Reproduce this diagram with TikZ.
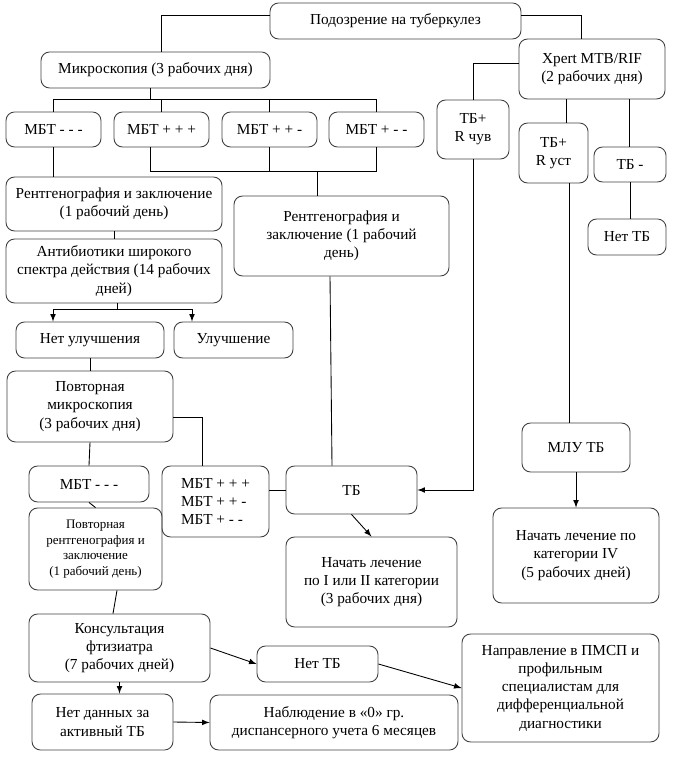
\documentclass[tikz,border=0pt]{standalone}
\usepackage{fontspec}
\setmainfont{Liberation Serif}
\usepackage{tikz}

\begin{document}
\begin{tikzpicture}[x=0.02cm, y=-0.02cm, >=latex,
  blk/.style={draw=black!75, line width=0.5pt, rounded corners=0.17cm, align=center,
    inner sep=0pt, font=\fontsize{8.7}{10.4}\selectfont},
  bx/.style 2 args={blk, minimum width=#1 cm, minimum height=#2 cm},
  every path/.style={line width=0.5pt}]

\useasboundingbox (0,0) rectangle (679,759);

% top
\node[bx={5.02}{0.72}] (susp) at (395.5,21) {Подозрение на туберкулез};
\node[bx={4.58}{0.72}] (micro) at (155.5,70) {Микроскопия (3 рабочих дня)};
\node[bx={2.92}{1.2}] (xpert) at (592,69) {Xpert MTB/RIF\\(2 рабочих дня)};

% microscopy results
\node[bx={1.9}{0.7}] (m1) at (53.5,129.5) {МБТ - - -};
\node[bx={1.9}{0.7}] (m2) at (161.5,129.5) {МБТ + + +};
\node[bx={1.9}{0.7}] (m3) at (269.5,129.5) {МБТ + + -};
\node[bx={1.9}{0.7}] (m4) at (376.5,129.5) {МБТ + - -};

% xpert results
\node[bx={1.44}{1.18}] (tbs) at (473,129.5) {ТБ+\\R чув};
\node[bx={1.38}{1.2}] (tbr) at (553.5,153) {ТБ+\\R уст};
\node[bx={1.44}{0.7}] (tbn) at (630,164.5) {ТБ -};
\node[bx={1.56}{0.72}] (notb1) at (627,237) {Нет ТБ};

% left branch
\node[bx={4.32}{1.08}] (rtg1) at (114,204) {Рентгенография и заключение\\(1 рабочий день)};
\node[bx={4.32}{1.28}] (abx) at (114,271) {Антибиотики широкого\\спектра действия (14 рабочих\\дней)};
\node[bx={4.3}{1.6}] (rtg2) at (341.5,236) {Рентгенография и\\заключение (1 рабочий\\день)};
\node[bx={2.96}{0.72}] (noimp) at (90,340) {Нет улучшения};
\node[bx={2.38}{0.72}] (imp) at (233.5,340) {Улучшение};
\node[bx={3.32}{1.42}] (rmic) at (90,406.5) {Повторная\\микроскопия\\(3 рабочих дня)};
\node[bx={2.4}{0.72}] (mneg) at (89,484) {МБТ - - -};
\node[bx={2.14}{1.42}, align=left] (mpos) at (215.5,501.5) {МБТ + + +\\МБТ + + -\\МБТ + - -};
\node[bx={2.62}{0.96}] (tb) at (351.5,490) {ТБ};
\node[bx={3.42}{1.8}] (trt12) at (371.5,582) {Начать лечение\\по I или II категории\\(3 рабочих дня)};
\node[bx={2.16}{0.98}] (mdr) at (576,447.5) {МЛУ ТБ};
\node[bx={3.32}{1.9}] (trt4) at (576,555.5) {Начать лечение по\\категории IV\\(5 рабочих дней)};
\node[bx={2.66}{1.64}, font=\fontsize{7.4}{8.8}\selectfont] (rrtg) at (95.5,549) {Повторная\\рентгенография и\\заключение\\(1 рабочий день)};

% bottom
\node[bx={3.62}{1.36}] (cons) at (119.5,648) {Консультация\\фтизиатра\\(7 рабочих дней)};
\node[bx={2.42}{0.72}] (notb2) at (317.5,664) {Нет ТБ};
\node[bx={3.94}{2.16}] (refr) at (560.5,688) {Направление в ПМСП и\\профильным\\специалистам для\\дифференциальной\\диагностики};
\node[bx={2.82}{1.12}] (nodat) at (102.5,722) {Нет данных за\\активный ТБ};
\node[bx={4.96}{1.1}] (obs) at (334,722.5) {Наблюдение в «0» гр.\\диспансерного учета 6 месяцев};

% connectors
\draw (susp.west |- 0,15) -| (micro.north -| 161,0);
\draw (susp.east |- 0,15) -| (xpert.north -| 581,0);

\draw (micro.south -| 150,0) -- (150,99);
\draw (m1.north) -- (m1.north |- 0,99) -- (m4.north |- 0,99) -- (m4.north);
\draw (m2.north) -- (m2.north |- 0,99);
\draw (m3.north) -- (m3.north |- 0,99);

\draw (m2.south -| 150,0) |- (m4.south |- 0,171) -- (m4.south);
\draw (m3.south) -- (m3.south |- 0,171);
\draw (317,171) -- (rtg2.north -| 317,0);
\draw (m1.south) -- (m1.south |- rtg1.north);
\draw (rtg1.south) -- (abx.north);

\draw (abx.south -| 117,0) -- (117,309);
\draw[->] (117,309) -| (noimp.north -| 53,0);
\draw[->] (117,309) -| (imp.north -| 192,0);

\draw (noimp.south) -- (rmic.north);
\draw (rmic.east |- 0,417) -| (mpos.north -| 202,0);
\draw (rmic.south) -- (mneg.north);
\draw (mneg.south) -- (rrtg.north);
\draw (tb.west) -- (tb.west -| mpos.east);
\draw (rtg2.south -| 330,0) -- (tb.north -| 332,0);

\draw (xpert.west |- 0,63) -| (tbs.north);
\draw[->] (tbs.south) |- (tb.east);
\draw (xpert.south -| 566,0) -- (tbr.north -| 566,0);
\draw (tbr.south -| 569,0) -- (mdr.north -| 569,0);
\draw (xpert.south -| 629,0) -- (tbn.north -| 629,0);
\draw (tbn.south) -- (tbn.south |- notb1.north);

\draw[->] (tb.south) -- (trt12.north);
\draw[->] (mdr.south) -- (trt4.north);

\draw (rrtg.south -| 117,0) -- (cons.north -| 113,0);
\draw[->] (cons.east) -- (notb2.west);
\draw[->] (notb2.east) -- (refr.west);
\draw[->] (cons.south) -- (cons.south |- nodat.north);
\draw[->] (nodat.east) -- (obs.west);

\end{tikzpicture}
\end{document}
